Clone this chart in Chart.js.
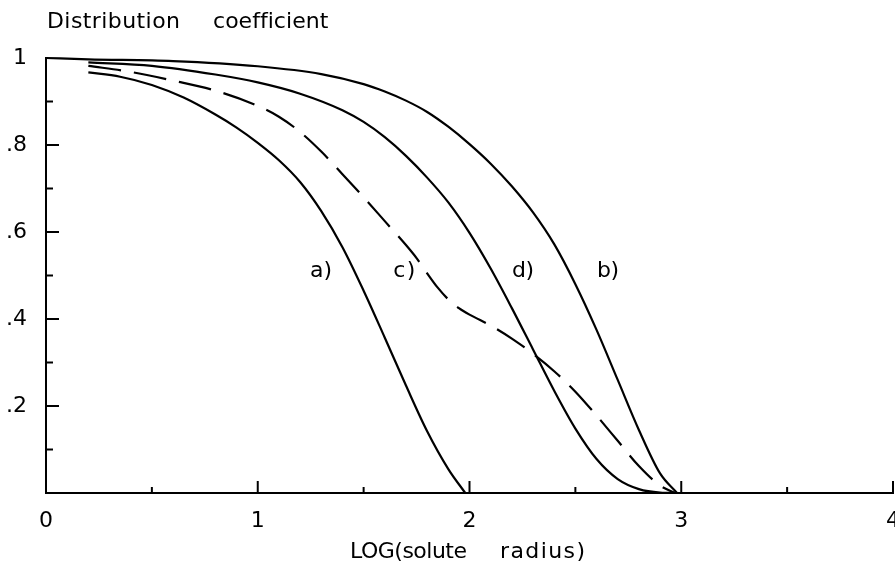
<!DOCTYPE html>
<html><head><meta charset="utf-8">
<script src="https://cdn.jsdelivr.net/npm/chart.js@4/dist/chart.umd.min.js"></script>
<style>html,body{margin:0;padding:0;background:#fff;}#wrap{width:895px;height:572px;}</style>
</head><body><div id="wrap"><canvas id="c" width="895" height="572"></canvas></div>
<script>
// ---- data ----
const xTickValues = [0, 1, 2, 3, 4];
const xTickLabels = ['0', '1', '2', '3', '4'];
const yTickValues = [0.2, 0.4, 0.6, 0.8, 1];
const yTickLabels = ['.2', '.4', '.6', '.8', '1'];
const xMinorTicks = [0.5, 1.5, 2.5, 3.5];
const yMinorTicks = [0.1, 0.3, 0.5, 0.7, 0.9];

const aX = [0.2, 0.35, 0.5, 0.65, 0.8, 0.9, 1.0, 1.1, 1.2, 1.3, 1.4, 1.5, 1.6, 1.7, 1.8, 1.9, 1.98];
const aY = [0.967, 0.957, 0.938, 0.909, 0.87, 0.84, 0.805, 0.765, 0.715, 0.648, 0.565, 0.465, 0.357, 0.247, 0.142, 0.055, 0];

const bX = [0, 0.2, 0.6, 1.0, 1.3, 1.5, 1.6, 1.7, 1.8, 1.9, 2.0, 2.1, 2.2, 2.3, 2.4, 2.5, 2.6, 2.7, 2.8, 2.9, 2.98];
const bY = [1.0, 0.997, 0.993, 0.981, 0.963, 0.94, 0.923, 0.902, 0.876, 0.842, 0.802, 0.757, 0.705, 0.645, 0.572, 0.48, 0.375, 0.26, 0.145, 0.045, 0];

const cX = [0.2, 0.4, 0.6, 0.8, 1.0, 1.1, 1.2, 1.3, 1.4, 1.5, 1.6, 1.7, 1.75, 1.8, 1.85, 1.9, 1.95, 2.0, 2.1, 2.2, 2.3, 2.4, 2.5, 2.6, 2.7, 2.8, 2.9, 2.97];
const cY = [0.982, 0.968, 0.948, 0.925, 0.89, 0.865, 0.83, 0.785, 0.733, 0.68, 0.625, 0.57, 0.54, 0.505, 0.472, 0.445, 0.425, 0.41, 0.385, 0.355, 0.32, 0.28, 0.233, 0.178, 0.12, 0.062, 0.017, 0];

const dX = [0.2, 0.5, 0.8, 1.0, 1.2, 1.4, 1.5, 1.6, 1.7, 1.8, 1.9, 2.0, 2.1, 2.2, 2.3, 2.4, 2.5, 2.6, 2.7, 2.8, 2.9, 2.98];
const dY = [0.99, 0.982, 0.962, 0.944, 0.918, 0.88, 0.853, 0.818, 0.775, 0.725, 0.668, 0.598, 0.516, 0.425, 0.33, 0.235, 0.148, 0.078, 0.032, 0.009, 0.001, 0];

const curveLabels = ['a)', 'c)', 'd)', 'b)'];
const curveLabelX = [1.299, 1.692, 2.253, 2.654];
const curveLabelY = [0.51, 0.51, 0.51, 0.51];

const yTitleWords = ['Distribution', 'coefficient'];
const xTitleWords = ['LOG(solute', 'radius)'];

// ---- chart ----
const FONT = '"DejaVu Sans", "Liberation Sans", sans-serif';
const pts = (xs, ys) => xs.map((x, i) => ({x: x, y: ys[i]}));
const lineDs = (xs, ys, dash) => ({
  data: pts(xs, ys), borderColor: '#000', borderWidth: 2.2, borderDash: dash || [],
  pointRadius: 0, fill: false, cubicInterpolationMode: 'monotone', clip: false
});

function wordAt(ctx, text, left, y, width) {
  ctx.save();
  ctx.letterSpacing = '0px';
  const w0 = ctx.measureText(text).width;
  const ls = text.length > 1 ? (width - w0) / (text.length - 1) : 0;
  ctx.letterSpacing = ls.toFixed(2) + 'px';
  ctx.textAlign = 'left';
  ctx.fillText(text, left, y);
  ctx.restore();
}

const decor = {
  id: 'decor',
  afterDraw(chart) {
    const ctx = chart.ctx, xs = chart.scales.x, ys = chart.scales.y;
    const x0 = xs.getPixelForValue(0), y0 = ys.getPixelForValue(0);
    ctx.save();
    ctx.strokeStyle = '#000'; ctx.lineWidth = 2; ctx.lineCap = 'butt';
    xTickValues.concat(xMinorTicks).forEach(v => {
      if (v === 0) return;
      const p = xs.getPixelForValue(v);
      const len = Number.isInteger(v) ? 12 : 6;
      ctx.beginPath(); ctx.moveTo(p, y0); ctx.lineTo(p, y0 - len); ctx.stroke();
    });
    yTickValues.concat(yMinorTicks).forEach(v => {
      if (v === 1) return;
      const p = ys.getPixelForValue(v);
      const len = yTickValues.indexOf(v) >= 0 ? 13 : 7;
      ctx.beginPath(); ctx.moveTo(x0, p); ctx.lineTo(x0 + len, p); ctx.stroke();
    });
    ctx.fillStyle = '#000';
    ctx.font = '22px ' + FONT;
    ctx.textBaseline = 'middle';
    wordAt(ctx, yTitleWords[0], 47, 22, 133);
    wordAt(ctx, yTitleWords[1], 213, 22, 115);
    wordAt(ctx, xTitleWords[0], 350, 552, 117);
    wordAt(ctx, xTitleWords[1], 500, 552, 85);
    curveLabels.forEach((t, i) => {
      const cx = xs.getPixelForValue(curveLabelX[i]);
      wordAt(ctx, t, cx - 11, ys.getPixelForValue(curveLabelY[i]), 22);
    });
    ctx.restore();
  }
};

new Chart(document.getElementById('c'), {
  type: 'line',
  data: {
    datasets: [
      lineDs(aX, aY),
      lineDs(bX, bY),
      lineDs(cX, cY, [33, 13]),
      lineDs(dX, dY)
    ]
  },
  options: {
    responsive: false, animation: false, devicePixelRatio: 1,
    layout: {padding: {top: 58, right: 2, left: 0, bottom: 0}},
    plugins: {legend: {display: false}, tooltip: {enabled: false}, title: {display: false}},
    scales: {
      x: {
        type: 'linear', min: 0, max: 4,
        afterBuildTicks: s => { s.ticks = xTickValues.map(v => ({value: v})); },
        afterFit: s => { s.height = 79; s.paddingLeft = 0; s.paddingRight = 0; },
        grid: {display: false, drawTicks: false},
        border: {display: true, color: '#000', width: 2},
        ticks: {
          color: '#000', font: {family: FONT, size: 22}, padding: 15, maxRotation: 0,
          callback: v => { const i = xTickValues.indexOf(v); return i >= 0 ? xTickLabels[i] : ''; }
        }
      },
      y: {
        type: 'linear', min: 0, max: 1,
        afterBuildTicks: s => { s.ticks = yTickValues.map(v => ({value: v})); },
        afterFit: s => { s.width = 46; s.paddingTop = 0; s.paddingBottom = 0; },
        grid: {display: false, drawTicks: false},
        border: {display: true, color: '#000', width: 2},
        ticks: {
          color: '#000', font: {family: FONT, size: 22}, padding: 19,
          callback: v => { const i = yTickValues.indexOf(v); return i >= 0 ? yTickLabels[i] : ''; }
        }
      }
    }
  },
  plugins: [decor]
});
</script>
</body></html>
